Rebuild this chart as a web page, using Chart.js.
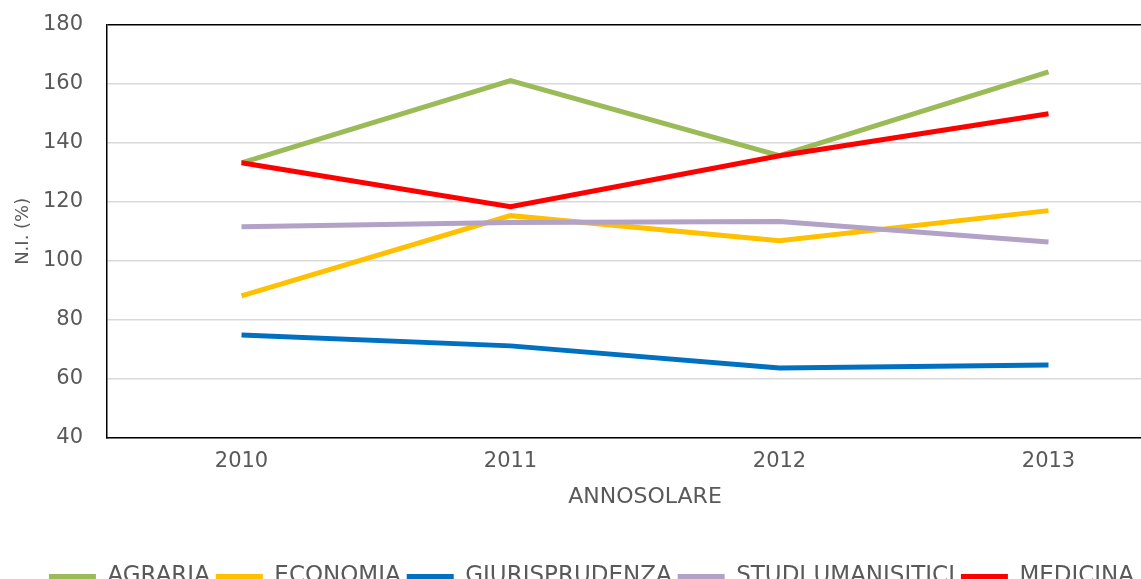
<!DOCTYPE html>
<html lang="it">

<head>
  <meta charset="UTF-8" />
  <meta name="viewport" content="width=device-width, initial-scale=1.0" />
  <title>N.I. per anno solare</title>
  <script src="https://cdn.jsdelivr.net/npm/chart.js"></script>
  <style>
    html, body {
      margin: 0;
      padding: 0;
      overflow: hidden;
      background: #fff;
    }

    /* canvas a bit bigger than the window: the original is cropped on the right and bottom */
    .c-panel_graph {
      position: relative;
      width: 1185px;
      height: 610px;
      margin-top: -12px;
    }
  </style>
</head>

<body>

  <div class="c-panel_graph">
    <canvas id="myChart_ni"></canvas>
  </div>

  <script>
    const anni = ['2010', '2011', '2012', '2013'];

    const agraria = [133.2, 161, 135.6, 164];
    const economia = [88.1, 115.3, 106.8, 117];
    const giurisprudenza = [74.9, 71.2, 63.7, 64.7];
    const studiUmanistici = [111.5, 113, 113.3, 106.4];
    const medicina = [133.2, 118.3, 135.6, 149.8];

    const serie = [
      { label: 'AGRARIA', data: agraria, color: '#9BBB59' },
      { label: 'ECONOMIA', data: economia, color: '#FFC000' },
      { label: 'GIURISPRUDENZA', data: giurisprudenza, color: '#0070C0' },
      { label: 'STUDI UMANISITICI', data: studiUmanistici, color: '#B3A2C7' },
      { label: 'MEDICINA', data: medicina, color: '#FF0000' },
    ];

    const grigio = '#595959';
    const font = 'DejaVu Sans';

    const ctx = document.getElementById('myChart_ni');

    new Chart(ctx, {
      type: 'line',
      data: {
        labels: anni,
        datasets: serie.map((s, i) => ({
          label: s.label,
          data: s.data,
          borderColor: s.color,
          backgroundColor: s.color,
          borderWidth: 5,
          pointRadius: 0,
          tension: 0,
          // later series drawn on top, like the original
          order: serie.length - i,
        })),
      },
      options: {
        responsive: true,
        maintainAspectRatio: false,
        animation: false,
        layout: {
          padding: { top: 0, left: 0, right: 2, bottom: 0 },
        },
        plugins: {
          legend: {
            position: 'bottom',
            labels: {
              boxWidth: 47,
              boxHeight: 5,
              padding: 6,
              color: grigio,
              font: { family: font, size: 23 },
              generateLabels(chart) {
                const items = Chart.defaults.plugins.legend.labels.generateLabels(chart);
                items.forEach(it => { it.lineWidth = 0; });
                return items.sort((a, b) => a.datasetIndex - b.datasetIndex);
              },
            },
          },
          tooltip: { enabled: false },
        },
        scales: {
          x: {
            offset: true,
            afterFit(scale) { scale.height = 121; },
            grid: { display: false, drawTicks: false },
            border: { display: true, color: '#000', width: 1.5 },
            ticks: {
              padding: 11.4,
              color: grigio,
              font: { family: font, size: 21 },
            },
            title: {
              display: true,
              text: 'ANNOSOLARE',
              color: grigio,
              font: { family: font, size: 22 },
              padding: { top: 0, bottom: 48.8 },
            },
          },
          y: {
            min: 40,
            max: 180,
            afterFit(scale) { scale.width = 107; },
            grid: {
              drawTicks: false,
              lineWidth: 1.5,
              color: c => (c.tick && c.tick.value === 180 ? '#000' : '#D9D9D9'),
            },
            border: { display: true, color: '#000', width: 1.5 },
            ticks: {
              stepSize: 20,
              padding: 24,
              color: grigio,
              font: { family: font, size: 21 },
            },
            title: {
              display: true,
              text: 'N.I. (%)',
              color: grigio,
              font: { family: font, size: 18 },
              padding: { top: 13, bottom: 10 },
            },
          },
        },
      },
    });
  </script>

</body>

</html>
